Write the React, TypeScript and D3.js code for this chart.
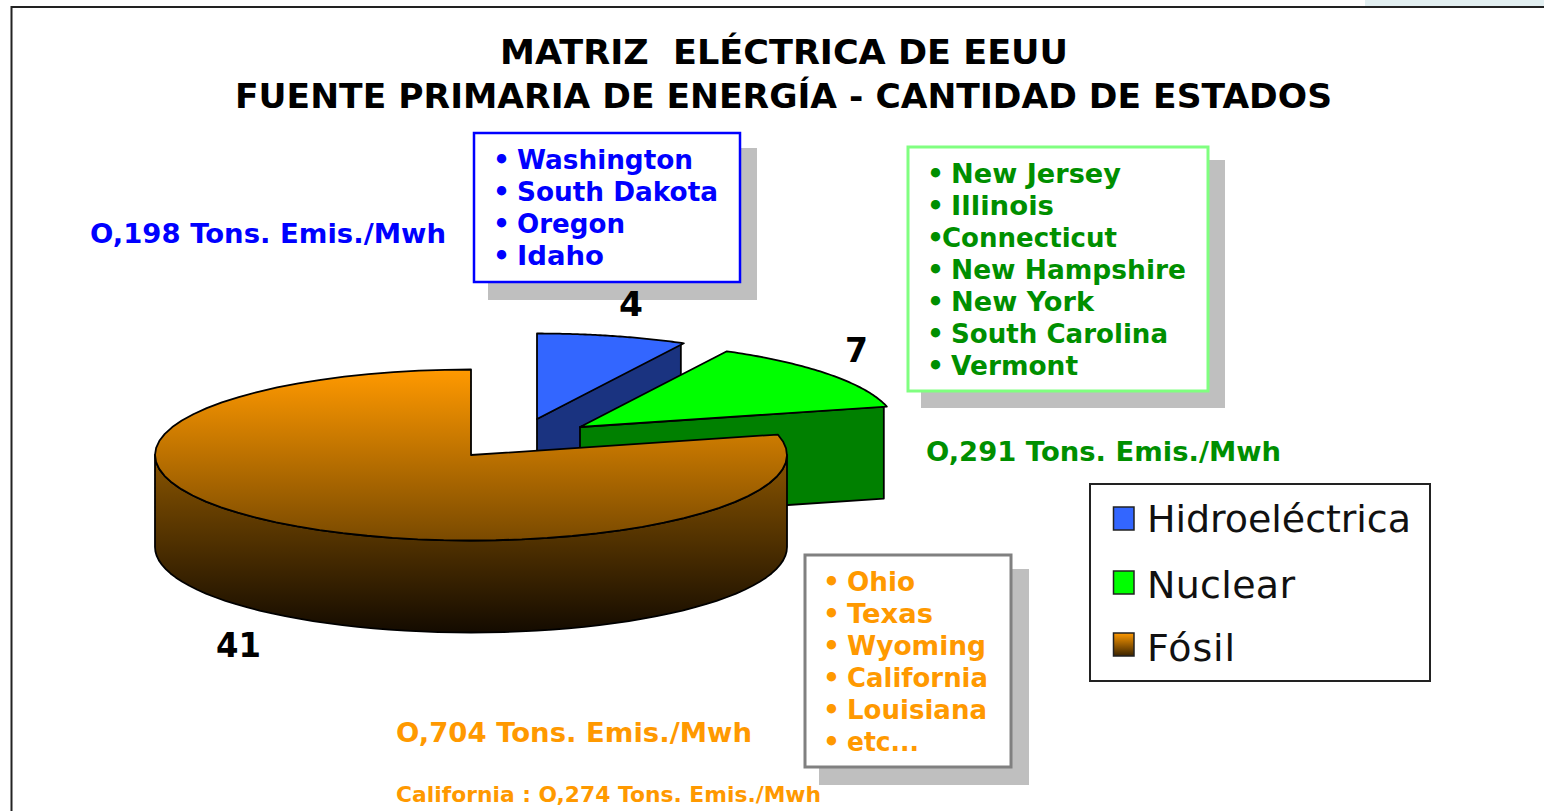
import React from "react";
import * as d3 from "d3";

const categories = ["Hidroeléctrica", "Nuclear", "Fósil"];
const stateCounts = [4, 7, 41];
const faceFills = ["#3366ff", "#00ff00", "url(#fossilFace)"];
const wallFills = ["#1a3380", "#008000", "url(#fossilWall)"];
const legendFills = ["#3366ff", "#00ff00", "url(#fossilSwatch)"];
const hydroStates = ["Washington", "South Dakota", "Oregon", "Idaho"];
const nuclearStates = ["New Jersey", "Illinois", "Connecticut", "New Hampshire", "New York", "South Carolina", "Vermont"];
const fossilStates = ["Ohio", "Texas", "Wyoming", "California", "Louisiana", "etc..."];
const titleLines = ["MATRIZ  ELÉCTRICA DE EEUU", "FUENTE PRIMARIA DE ENERGÍA - CANTIDAD DE ESTADOS"];

// Rendered widths of the list labels, so the text fits the boxes as in the picture
const hydroWidths = [176, 201, 108, 87];
const nuclearWidths = [170, 103, 175, 235, 143, 217, 127];
const fossilWidths = [68, 86, 139, 141, 140, 72];

const RX = 316, RY = 85.5, DEPTH = 92, CX = 471, CY = 455;
const EXPLODE: [number, number][] = [[66, -36], [109, -28], [0, 0]];
const WALL_INSET = 3;
const FONT = "'DejaVu Sans', Verdana, sans-serif";
const BLUE = "#0000ff", GREEN = "#008f00", ORANGE = "#ff9900";

const arcs = d3.pie<number>().sort(null).startAngle(0).endAngle(2 * Math.PI)(stateCounts);
const line = d3.line();
const pt = (a: number, dx: number, dy: number, depth = 0): [number, number] => [
  CX + dx + RX * Math.sin(a),
  CY + dy - RY * Math.cos(a) + depth,
];
const sweep = (a0: number, a1: number, dx: number, dy: number, depth = 0) =>
  d3.range(0, 61).map((i) => pt(a0 + ((a1 - a0) * i) / 60, dx, dy, depth));

function facePath(i: number) {
  const [dx, dy] = EXPLODE[i];
  const a = arcs[i];
  return line([[CX + dx, CY + dy], ...sweep(a.startAngle, a.endAngle, dx, dy)])! + "Z";
}
// Walls that the viewer can see for each exploded slice
function wallPath(i: number) {
  const [dx, dy] = EXPLODE[i];
  const a = arcs[i];
  if (i === 2) {
    const top = sweep(Math.PI / 2, 1.5 * Math.PI, dx, dy);
    const bottom = sweep(1.5 * Math.PI, Math.PI / 2, dx, dy, DEPTH);
    return line([...top, ...bottom])! + "Z";
  }
  const [ex, ey] = pt(a.endAngle, dx, dy);
  const ax = CX + dx, ay = CY + dy;
  return line([[ax, ay], [ex - WALL_INSET, ey], [ex - WALL_INSET, ey + DEPTH], [ax, ay + DEPTH]])! + "Z";
}

function Box({ x, y, w, h, stroke, sw = 3, sx, sy, sr, sb }: any) {
  return (
    <g>
      <rect x={sx} y={sy} width={sr - sx} height={sb - sy} fill="#bfbfbf" />
      <rect x={x} y={y} width={w} height={h} fill="#fff" stroke={stroke} strokeWidth={sw} />
    </g>
  );
}

function BulletList({ items, widths, x, y, color, tight }: any) {
  return (
    <g fill={color} fontFamily={FONT} fontWeight="bold" fontSize={26.6}>
      {items.map((t: string, i: number) => (
        <g key={t}>
          <text x={x - 2} y={y + i * 32}>•</text>
          <text x={x + (tight === t ? 13 : 22)} y={y + i * 32}
            textLength={widths[i]} lengthAdjust="spacingAndGlyphs">{t}</text>
        </g>
      ))}
    </g>
  );
}

function Note({ x, y, len, size = 26.6, color, children }: any) {
  return (
    <text x={x} y={y} fill={color} fontFamily={FONT} fontWeight="bold" fontSize={size}
      textLength={len} lengthAdjust="spacingAndGlyphs">{children}</text>
  );
}

export default function App() {
  return (
    <svg width={1544} height={811} viewBox="0 0 1544 811"
      style={{ position: "absolute", left: 0, top: 0, display: "block", background: "#fff" }}>
      <defs>
        <linearGradient id="fossilFace" gradientUnits="userSpaceOnUse" x1="0" x2="0" y1="370" y2="540">
          <stop offset="0" stopColor="#ff9900" />
          <stop offset="1" stopColor="#7a4a00" />
        </linearGradient>
        <linearGradient id="fossilWall" gradientUnits="userSpaceOnUse" x1="0" x2="0" y1="455" y2="632">
          <stop offset="0" stopColor="#8a5500" />
          <stop offset="1" stopColor="#140b00" />
        </linearGradient>
        <linearGradient id="fossilSwatch" x1="0" x2="0" y1="0" y2="1">
          <stop offset="0" stopColor="#ff9900" />
          <stop offset="1" stopColor="#3a2300" />
        </linearGradient>
      </defs>

      <rect x={1365} y={0} width={179} height={6} fill="#e2eff1" />
      <path d="M11.5,811V7H1544" fill="none" stroke="#222" strokeWidth={2} />

      <g fontFamily={FONT} fontWeight="bold" fontSize={33} fill="#000" textAnchor="start">
        <text x={500} y={64} textLength={568} lengthAdjust="spacingAndGlyphs" xmlSpace="preserve">{titleLines[0]}</text>
        <text x={235} y={108} textLength={1097} lengthAdjust="spacingAndGlyphs">{titleLines[1]}</text>
      </g>

      <Box x={474} y={133} w={266} h={149} stroke={BLUE} sw={2.5} sx={488} sy={148} sr={757} sb={300} />
      <Box x={908} y={147} w={300} h={244} stroke="#80ff80" sw={3} sx={921} sy={160} sr={1225} sb={408} />
      <Box x={805} y={555} w={206} h={212} stroke="#808080" sw={3} sx={819} sy={569} sr={1029} sb={785} />

      <BulletList items={hydroStates} widths={hydroWidths} x={495} y={169} color={BLUE} />
      <BulletList items={nuclearStates} widths={nuclearWidths} x={929} y={183} color={GREEN} tight="Connecticut" />
      <BulletList items={fossilStates} widths={fossilWidths} x={825} y={591} color={ORANGE} />

      <Note x={90} y={243} len={356} color={BLUE}>O,198 Tons. Emis./Mwh</Note>
      <Note x={926} y={461} len={355} color={GREEN}>O,291 Tons. Emis./Mwh</Note>
      <Note x={396} y={742} len={356} color={ORANGE}>O,704 Tons. Emis./Mwh</Note>
      <Note x={396} y={802} len={425} size={22} color={ORANGE}>California : O,274 Tons. Emis./Mwh</Note>

      {stateCounts.map((_, i) => (
        <g key={categories[i]} stroke="#000" strokeWidth={1.8} strokeLinejoin="round">
          <path d={wallPath(i)} fill={wallFills[i]} />
          <path d={facePath(i)} fill={faceFills[i]} />
        </g>
      ))}

      <g fontFamily={FONT} fontWeight="bold" fontSize={34} fill="#000" textAnchor="start">
        <text x={619} y={316} textLength={24} lengthAdjust="spacingAndGlyphs">{stateCounts[0]}</text>
        <text x={845} y={362} textLength={23} lengthAdjust="spacingAndGlyphs">{stateCounts[1]}</text>
        <text x={216} y={657} textLength={45} lengthAdjust="spacingAndGlyphs">{stateCounts[2]}</text>
      </g>

      <rect x={1090} y={484} width={340} height={197} fill="#fff" stroke="#222" strokeWidth={2} />
      {categories.map((c, i) => {
        const rowY = [507, 571, 633][i];
        const base = [532, 598, 661][i];
        const len = [264, 148, 88][i];
        return (
          <g key={c}>
            <rect x={1113.5} y={rowY} width={20.5} height={23} fill={legendFills[i]} stroke="#222" strokeWidth={1.5} />
            <text x={1147} y={base} fontFamily={FONT} fontSize={38} fill="#111"
              textLength={len} lengthAdjust="spacing">{c}</text>
          </g>
        );
      })}
    </svg>
  );
}
